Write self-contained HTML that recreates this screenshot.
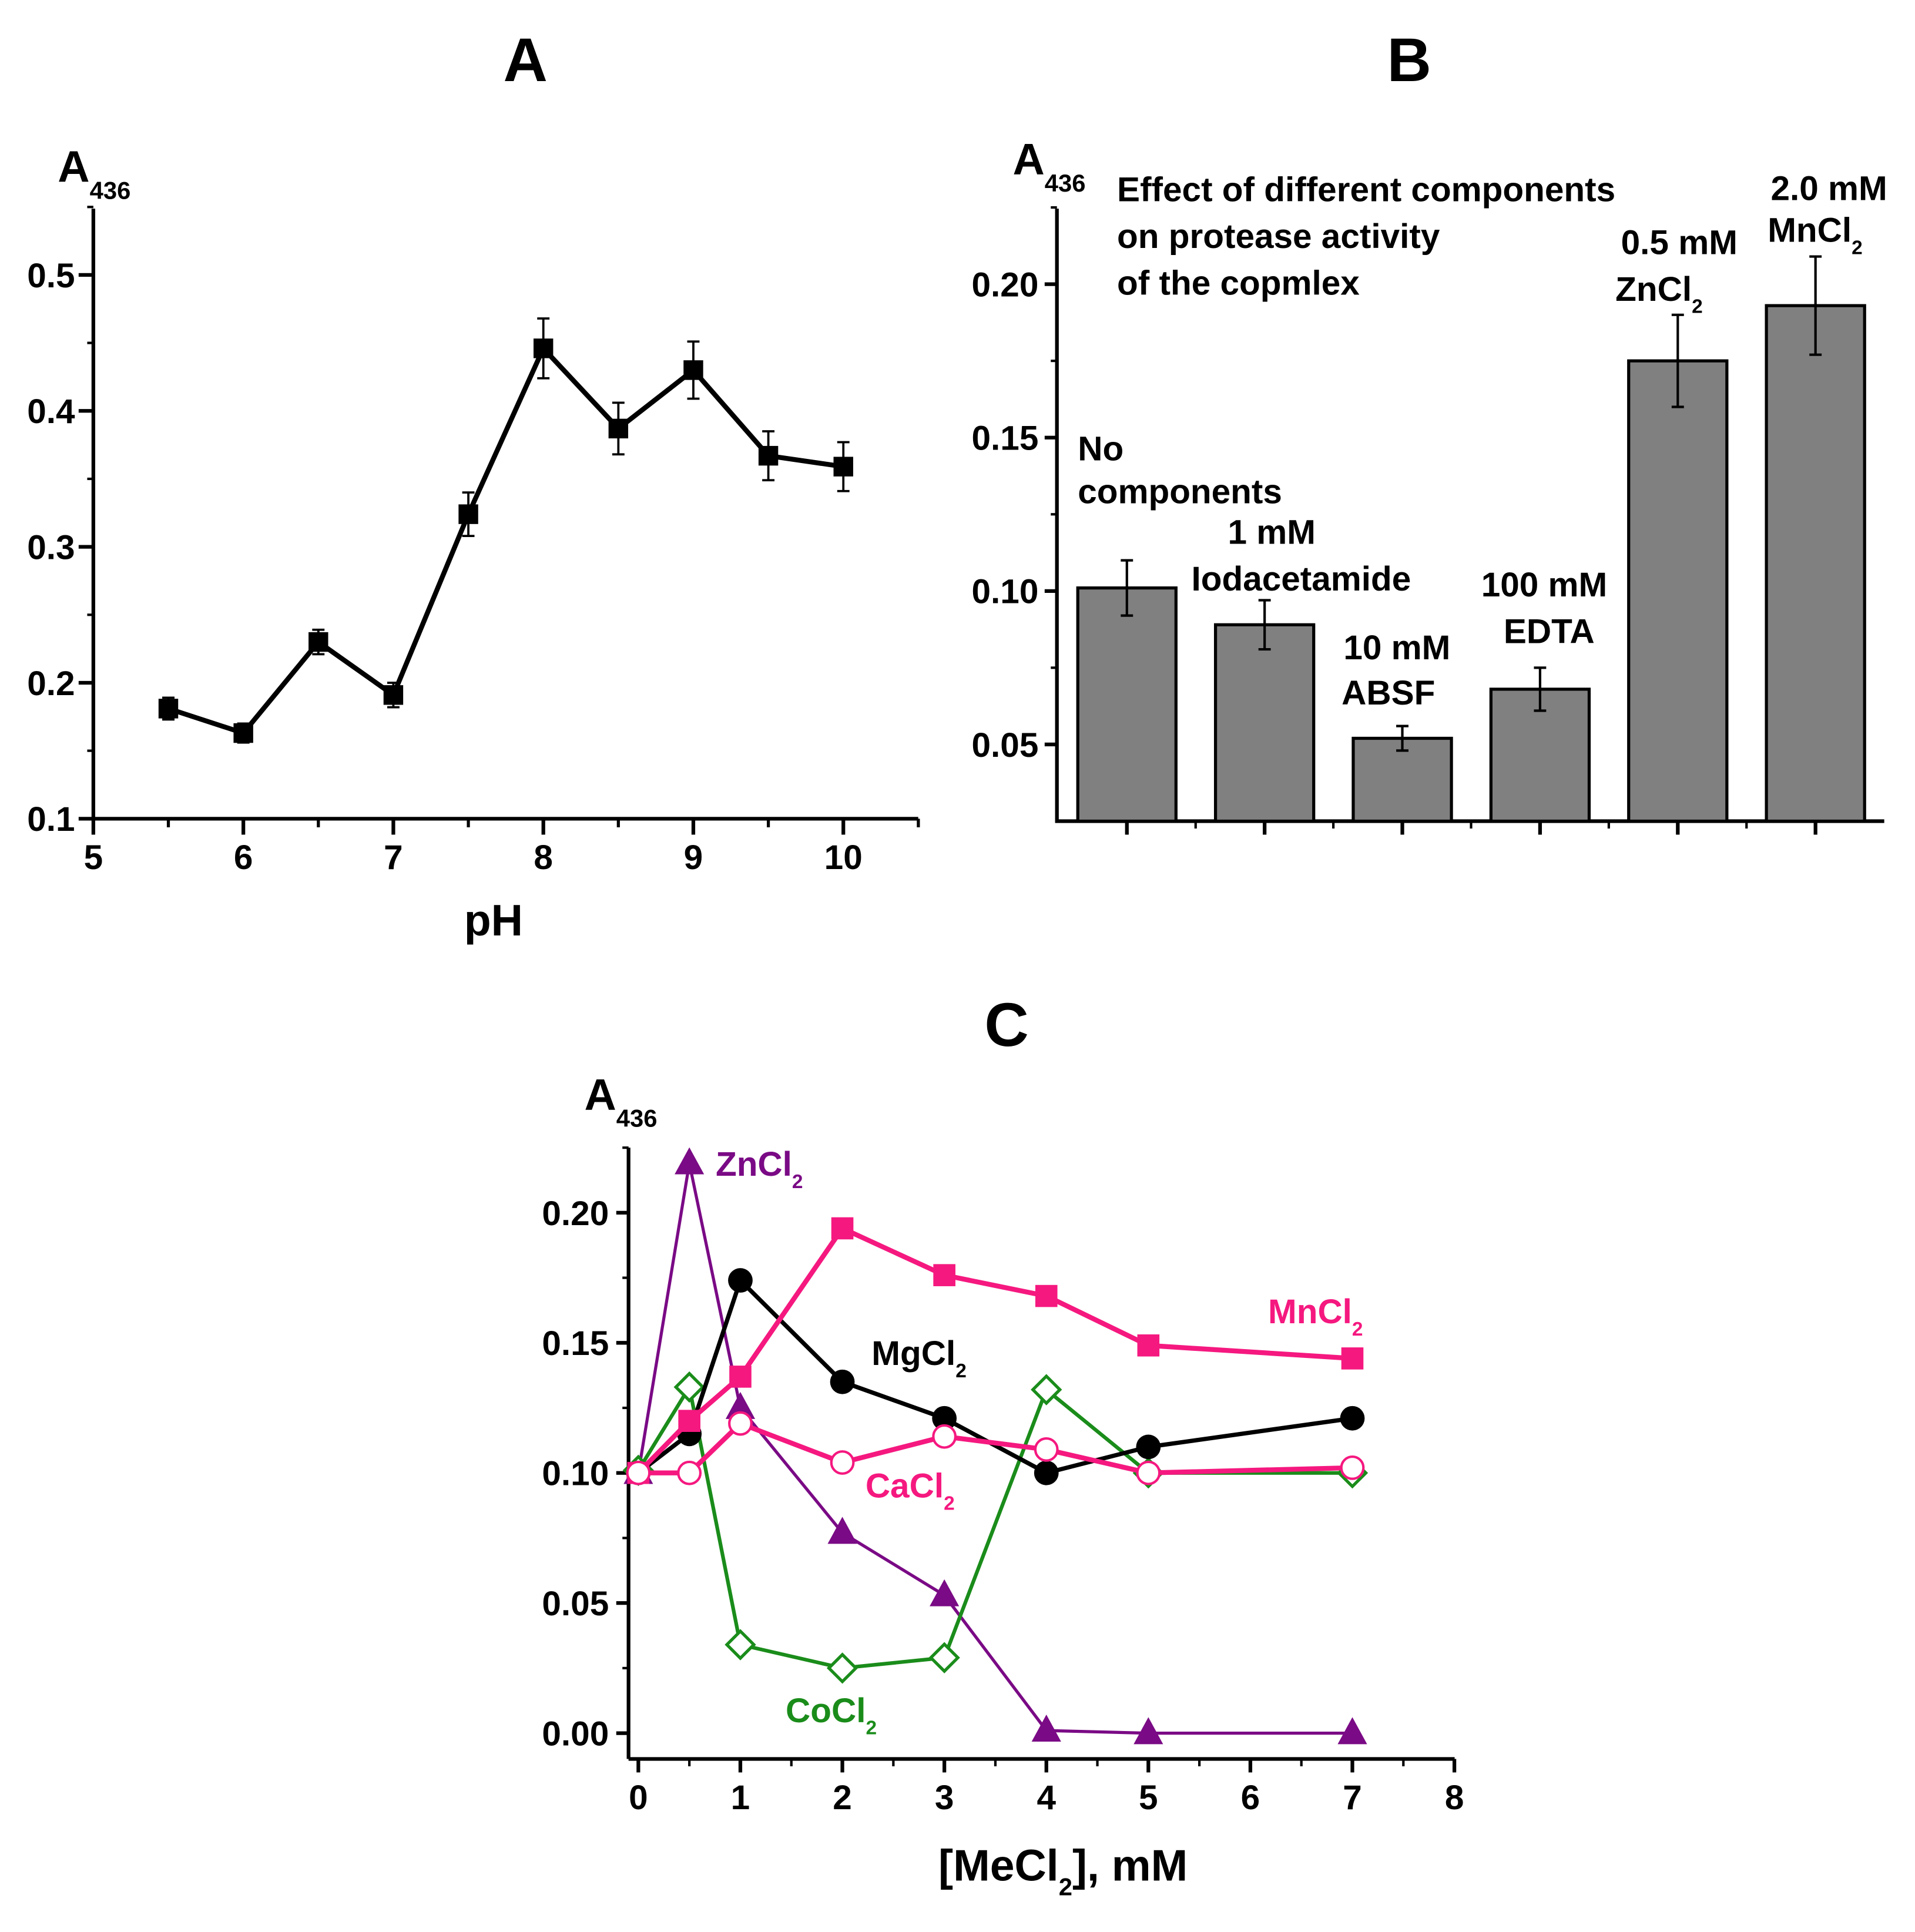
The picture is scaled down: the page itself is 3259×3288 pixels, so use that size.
<!DOCTYPE html>
<html><head><meta charset="utf-8"><style>html,body{margin:0;padding:0;background:#fff}svg{display:block}text{font-family:"Liberation Sans",sans-serif;font-weight:bold}</style></head>
<body>
<svg id="fig" width="3259" height="3288" viewBox="0 0 1560 1574" xmlns="http://www.w3.org/2000/svg">
<g id="gA"></g>
<g id="gB"></g>
<g id="gC"></g>
</svg>
<script>
// Panel A data
const phX = [5.5,6,6.5,7,7.5,8,8.5,9,9.5,10];
const phY = [0.181,0.163,0.230,0.191,0.324,0.446,0.387,0.430,0.367,0.359];
const phErr = [0.008,0.007,0.009,0.009,0.016,0.022,0.019,0.021,0.018,0.018];
const aXTicks = [5,6,7,8,9,10];
const aYTicks = [0.1,0.2,0.3,0.4,0.5];
// Panel B data
const bCats = ["No components","1 mM Iodacetamide","10 mM ABSF","100 mM EDTA","0.5 mM ZnCl2","2.0 mM MnCl2"];
const bVals = [0.101,0.089,0.052,0.068,0.175,0.193];
const bErr = [0.009,0.008,0.004,0.007,0.015,0.016];
const bYTicks = [0.05,0.10,0.15,0.20];
// Panel C data
const cX = [0,0.5,1,2,3,4,5,7];
const cMn = [0.100,0.120,0.137,0.194,0.176,0.168,0.149,0.144];
const cMg = [0.100,0.115,0.174,0.135,0.121,0.100,0.110,0.121];
const cCa = [0.100,0.100,0.119,0.104,0.114,0.109,0.100,0.102];
const cZn = [0.100,0.219,0.125,0.077,0.053,0.001,0.000,0.000];
const cCo = [0.101,0.133,0.034,0.025,0.029,0.132,0.100,0.100];
const cXTicks = [0,1,2,3,4,5,6,7,8];
const cYTicks = [0.00,0.05,0.10,0.15,0.20];

const NS="http://www.w3.org/2000/svg";
function mk(parent,tag,attrs,txt){const e=document.createElementNS(NS,tag);for(const k in attrs)e.setAttribute(k,attrs[k]);if(txt!==undefined)e.textContent=txt;parent.appendChild(e);return e;}
function ytitle(g,x,y){const t=mk(g,'text',{x:x,y:y,'font-size':36});t.textContent='A';const s=mk(t,'tspan',{'font-size':20,dy:14});s.textContent='436';}

// ---------- Panel A ----------
const gA=document.getElementById('gA');
const ax=v=>76+(v-5)*122.2, ay=v=>667-(v-0.1)*1107.5;
let t=mk(gA,'text',{x:428,y:66,'font-size':50,'text-anchor':'middle'},'A');

ytitle(gA,47,148);
let l=mk(gA,'path',{d:'M76 170V667H748',stroke:'#000','stroke-width':3,fill:'none'});

for(let v=5;v<=10.5;v+=0.5){mk(gA,'line',{x1:ax(v),x2:ax(v),y1:667,y2:Number.isInteger(v)?678:674,stroke:'#000','stroke-width':2.5});}
for(let v=0.15;v<=0.55;v+=0.1){mk(gA,'line',{x1:76,x2:71,y1:ay(v),y2:ay(v),stroke:'#000','stroke-width':2});}
aXTicks.forEach(v=>{const e=mk(gA,'text',{x:ax(v),y:708,'font-size':28,'text-anchor':'middle'},v);mk(gA,'line',{x1:ax(v),x2:ax(v),y1:667,y2:680,stroke:'#000','stroke-width':3});});
aYTicks.forEach(v=>{const e=mk(gA,'text',{x:61,y:ay(v)+10,'font-size':28,'text-anchor':'end'},v.toFixed(1));mk(gA,'line',{x1:64,x2:76,y1:ay(v),y2:ay(v),stroke:'#000','stroke-width':3});});
t=mk(gA,'text',{x:402,y:762,'font-size':36,'text-anchor':'middle'},'pH');
l=mk(gA,'polyline',{points:phX.map((x,i)=>ax(x)+','+ay(phY[i])).join(' '),fill:'none',stroke:'#000','stroke-width':4});

phX.forEach((x,i)=>{const X=ax(x),Y1=ay(phY[i]+phErr[i]),Y2=ay(phY[i]-phErr[i]);
 const e=mk(gA,'path',{d:`M${X} ${Y1}V${Y2}M${X-5} ${Y1}H${X+5}M${X-5} ${Y2}H${X+5}`,stroke:'#000','stroke-width':1.8,fill:'none'});
 
 const r=mk(gA,'rect',{x:X-8,y:ay(phY[i])-8,width:16,height:16,fill:'#000'});
 });

// ---------- Panel B ----------
const gB=document.getElementById('gB');
const by=v=>669-(v-0.025)*2500, bx=i=>918+i*112.2;
t=mk(gB,'text',{x:1148,y:66,'font-size':50,'text-anchor':'middle'},'B');
ytitle(gB,825,142);
l=mk(gB,'path',{d:'M861 170V669H1535',stroke:'#000','stroke-width':3,fill:'none'});
bYTicks.forEach(v=>{const e=mk(gB,'text',{x:846,y:by(v)+10,'font-size':28,'text-anchor':'end'},v.toFixed(2));mk(gB,'line',{x1:851,x2:861,y1:by(v),y2:by(v),stroke:'#000','stroke-width':3});});
for(let v=0.075;v<0.23;v+=0.05){mk(gB,'line',{x1:861,x2:856,y1:by(v),y2:by(v),stroke:'#000','stroke-width':2});}
bVals.forEach((v,i)=>{const X=bx(i);
 const r=mk(gB,'rect',{x:X-40,y:by(v),width:80,height:669-by(v),fill:'#808080',stroke:'#000','stroke-width':2.5});
 
 const Y1=by(v+bErr[i]),Y2=by(v-bErr[i]);
 const e=mk(gB,'path',{d:`M${X} ${Y1}V${Y2}M${X-5} ${Y1}H${X+5}M${X-5} ${Y2}H${X+5}`,stroke:'#000','stroke-width':2,fill:'none'});
 
 mk(gB,'line',{x1:X,x2:X,y1:669,y2:680,stroke:'#000','stroke-width':3});});
for(let i=0;i<5;i++){const X=bx(i)+56;mk(gB,'line',{x1:X,x2:X,y1:669,y2:675,stroke:'#000','stroke-width':2});}
const bLabels=[[878,375,"No",'start'],[878,410,"components",'start'],[1036,443,"1 mM",'middle'],[1060,481,"Iodacetamide",'middle'],[1138,537,"10 mM",'middle'],[1131,574,"ABSF",'middle'],[1258,486,"100 mM",'middle'],[1262,524,"EDTA",'middle'],[1368,207,"0.5 mM",'middle'],[1490,163,"2.0 mM",'middle']];
bLabels.forEach(a=>{const e=mk(gB,'text',{x:a[0],y:a[1],'font-size':28,'text-anchor':a[3]},a[2]);});
[[1316,245,"ZnCl"],[1440,197,"MnCl"]].forEach(a=>{const e=mk(gB,'text',{x:a[0],y:a[1],'font-size':28},a[2]);const s=mk(e,'tspan',{'font-size':16,dy:10},'2');});
["Effect of different components","on protease activity","of the copmlex"].forEach((s,i)=>{const e=mk(gB,'text',{x:910,y:164+i*38,'font-size':28},s);});

// ---------- Panel C ----------
const gC=document.getElementById('gC');
const cx=v=>520+v*83.1, cy=v=>1412-v*2120;
t=mk(gC,'text',{x:820,y:852,'font-size':50,'text-anchor':'middle'},'C');
ytitle(gC,476,904);
l=mk(gC,'path',{d:'M512 935V1433M512 1433H1185',stroke:'#000','stroke-width':3,fill:'none'});
cXTicks.forEach(v=>{const e=mk(gC,'text',{x:cx(v),y:1474,'font-size':28,'text-anchor':'middle'},v);mk(gC,'line',{x1:cx(v),x2:cx(v),y1:1433,y2:1444,stroke:'#000','stroke-width':3});});
for(let v=0.5;v<8;v+=1){mk(gC,'line',{x1:cx(v),x2:cx(v),y1:1433,y2:1439,stroke:'#000','stroke-width':2});}
cYTicks.forEach(v=>{const e=mk(gC,'text',{x:496,y:cy(v)+10,'font-size':28,'text-anchor':'end'},v.toFixed(2));mk(gC,'line',{x1:502,x2:512,y1:cy(v),y2:cy(v),stroke:'#000','stroke-width':3});});
for(let v=0.025;v<0.23;v+=0.05){mk(gC,'line',{x1:512,x2:507,y1:cy(v),y2:cy(v),stroke:'#000','stroke-width':2});}
t=mk(gC,'text',{x:866,y:1532,'font-size':36,'text-anchor':'middle'});
t.textContent='[MeCl';mk(t,'tspan',{'font-size':20,dy:12},'2');mk(t,'tspan',{dy:-12},'], mM');
function series(vals,color,sw,marker,name){
 const g=mk(gC,'g',{});
 mk(g,'polyline',{points:cX.map((x,i)=>cx(x)+','+cy(vals[i])).join(' '),fill:'none',stroke:color,'stroke-width':sw});
 cX.forEach((x,i)=>{const X=cx(x),Y=cy(vals[i]);let m;
  if(marker==='sq')m=mk(g,'rect',{x:X-9,y:Y-9,width:18,height:18,fill:color});
  else if(marker==='dot')m=mk(g,'circle',{cx:X,cy:Y,r:10,fill:color});
  else if(marker==='ocirc')m=mk(g,'circle',{cx:X,cy:Y,r:9,fill:'#fff',stroke:color,'stroke-width':2});
  else if(marker==='tri')m=mk(g,'polygon',{points:`${X},${Y-13} ${X-12},${Y+9} ${X+12},${Y+9}`,fill:color});
  else m=mk(g,'polygon',{points:`${X},${Y-11} ${X+11},${Y} ${X},${Y+11} ${X-11},${Y}`,fill:'#fff',stroke:color,'stroke-width':2.5});
  });}
series(cZn,'#7a0a85',2.5,'tri','zncl2');
series(cCo,'#1a8c1a',3,'dia','cocl2');
series(cMg,'#000',3.5,'dot','mgcl2');
series(cMn,'#f5187f',4,'sq','mncl2');
series(cCa,'#f5187f',4,'ocirc','cacl2');
[[583,958,'ZnCl','#7a0a85'],[1033,1078,'MnCl','#f5187f'],[710,1112,'MgCl','#000'],[705,1220,'CaCl','#f5187f'],[640,1403,'CoCl','#1a8c1a']].forEach(a=>{
 const e=mk(gC,'text',{x:a[0],y:a[1],'font-size':28,fill:a[3]},a[2]);mk(e,'tspan',{'font-size':16,dy:10},'2');});
</script>
</body></html>
